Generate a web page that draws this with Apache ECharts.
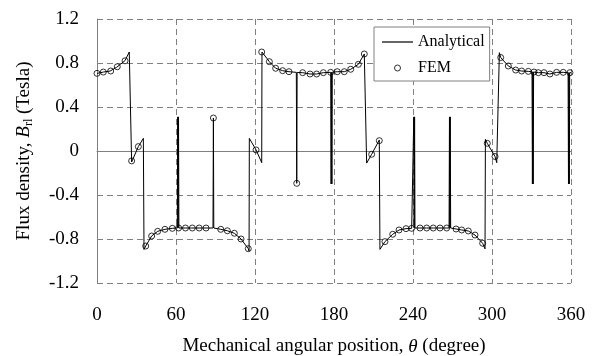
<!DOCTYPE html>
<html>
<head>
<meta charset="utf-8">
<script src="https://cdn.jsdelivr.net/npm/echarts@6/dist/echarts.min.js"></script>
<style>
  html, body { margin: 0; padding: 0; background: #fff; }
  #chart { width: 596px; height: 356px; }
</style>
</head>
<body>
<div id="chart"></div>
<script>
// --- Data ---
// Analytical curve (angle in degrees, flux density in Tesla); close pairs make the slot spikes
const anaX = [
  0, 5, 10, 15, 18, 21.3, 24.5, 26.3, 31.4, 35.2, 35.7, 37, 41.5, 46.1, 51.6, 57.2,
  61.0, 61.3, 61.6, 61.9, 62.2, 67, 72, 77.5, 82.8, 88.1, 88.4, 88.7,
  94, 99, 104.3, 109.4, 114.9, 115.5, 115.7, 120.8, 125.1, 125.3,
  130.9, 135.7, 141, 145.8, 151.4, 151.7, 152.0, 156.2, 161.8, 166.8, 171.9, 177.5,
  177.8, 178.1, 178.4, 178.7, 182.5, 187.8, 192.7, 198.5, 203, 204.3,
  204.8, 208.6, 214.4, 214.9, 218.7, 224.6, 229.4, 234.7, 239,
  240.3, 240.6, 240.9, 241.2, 241.5, 245.3, 250.4, 255.4, 260.5, 265.6,
  267.4, 267.7, 268.0, 268.3, 268.6, 272.7, 277, 282, 287.1, 292.9, 294.7,
  295.0, 296.4, 302.3, 303.6, 305.6, 306.6, 312.4, 318, 322.5, 327.6,
  330.4, 330.7, 331.0, 331.3, 331.6, 335.2, 339.5, 344, 349.1, 354.1,
  357.8, 358.1, 358.4, 358.7, 359.0, 360
];
const anaY = [
  0.705, 0.718, 0.727, 0.762, 0.79, 0.822, 0.90, -0.10, 0.04, 0.115, -0.895, -0.864, -0.773, -0.73, -0.712, -0.703,
  -0.70, 0.31, -0.70, 0.31, -0.70, -0.70, -0.70, -0.70, -0.70, -0.70, 0.30, -0.70,
  -0.712, -0.725, -0.748, -0.80, -0.888, -0.91, 0.115, 0.01, -0.106, 0.90,
  0.812, 0.752, 0.73, 0.721, 0.715, -0.294, 0.714, 0.712, 0.70, 0.70, 0.712, 0.715,
  -0.30, 0.715, -0.30, 0.716, 0.721, 0.721, 0.743, 0.788, 0.882, 0.894,
  -0.11, -0.03, 0.10, -0.894, -0.824, -0.757, -0.718, -0.706, -0.703,
  -0.70, 0.31, -0.70, 0.31, -0.70, -0.70, -0.70, -0.70, -0.70, -0.70,
  -0.70, 0.31, -0.70, 0.31, -0.70, -0.709, -0.718, -0.727, -0.764, -0.839, -0.89,
  0.106, 0.07, -0.05, -0.106, 0.894, 0.85, 0.773, 0.736, 0.727, 0.724,
  0.72, -0.30, 0.72, -0.30, 0.718, 0.712, 0.712, 0.70, 0.715, 0.715,
  0.712, -0.30, 0.712, -0.30, 0.712, 0.712
];

// FEM samples
const femX = [
  0, 4.8, 10.4, 15.4, 21.3, 26.3, 31.4, 37, 41.5, 46.1, 51.6, 57.2, 62, 67.2, 72.4, 77.6, 82.8,
  88.4, 94, 99, 104.3, 109.4, 114.9, 120.8, 125.1, 130.9, 135.7, 141, 145.8, 151.7,
  156.2, 161.8, 166.8, 171.9, 177.5, 182.5, 187.8, 192.7, 198.5, 203, 208.6, 214.4,
  218.7, 224.6, 229.4, 234.7, 239, 245.3, 250.4, 255.4, 260.5, 265.6, 272.7, 277, 282,
  287.1, 292.9, 296.4, 302.3, 306.6, 312.4, 318, 322.5, 327.6, 331.9, 335.2, 339.5,
  344, 349.1, 354.1, 359.2
];
const femY = [
  0.706, 0.718, 0.727, 0.766, 0.82, -0.09, 0.04, -0.864, -0.773, -0.73, -0.712, -0.703, -0.70, -0.70, -0.70, -0.70, -0.70,
  0.30, -0.712, -0.725, -0.748, -0.80, -0.888, 0.01, 0.90, 0.812, 0.752, 0.73, 0.721, -0.294,
  0.712, 0.70, 0.70, 0.712, 0.715, 0.721, 0.721, 0.743, 0.788, 0.882, -0.03, 0.094,
  -0.824, -0.757, -0.718, -0.706, -0.703, -0.70, -0.70, -0.70, -0.70, -0.70, -0.709, -0.718, -0.727,
  -0.764, -0.839, 0.07, -0.05, 0.85, 0.773, 0.736, 0.727, 0.724, 0.718, 0.712, 0.712,
  0.70, 0.715, 0.715, 0.712
];

const seriesNames = ['Analytical', 'FEM'];

// --- Chart ---
const FONT = '"Liberation Serif", "Times New Roman", serif';
const GRID_GRAY = '#808080';

const chart = echarts.init(document.getElementById('chart'), null, { renderer: 'canvas' });

chart.setOption({
  animation: false,
  backgroundColor: '#fff',
  // outerBoundsMode 'none': keep the plot box fixed even if the axis name reaches the edge
  grid: { left: 97, right: 25, top: 19, bottom: 73, containLabel: false, outerBoundsMode: 'none' },
  legend: {
    show: true,
    orient: 'vertical',
    left: 374,
    top: 27,
    padding: [7, 5, 5, 8],
    itemGap: 10,
    itemWidth: 31,
    itemHeight: 6,
    backgroundColor: '#fff',
    borderColor: GRID_GRAY,
    borderWidth: 1,
    textStyle: { fontFamily: FONT, fontSize: 16, color: '#000' },
    data: [
      // thin rectangle path = plain line icon
      { name: seriesNames[0], icon: 'path://M0,0L31,0L31,1.2L0,1.2Z', itemStyle: { color: '#000', borderWidth: 0 } },
      { name: seriesNames[1], icon: 'circle', itemStyle: { color: 'rgba(0,0,0,0)', borderColor: '#000', borderWidth: 1 } }
    ]
  },
  xAxis: {
    type: 'value',
    min: 0, max: 360, interval: 60,
    name: '{n|Mechanical angular position, }{i|θ}{n| (degree)}',
    nameLocation: 'middle',
    nameGap: 54,
    nameTextStyle: {
      rich: {
        n: { fontFamily: FONT, fontSize: 19, color: '#000' },
        i: { fontFamily: FONT, fontSize: 19, fontStyle: 'italic', color: '#000' }
      }
    },
    axisLine: { show: true, lineStyle: { color: GRID_GRAY, width: 1 } },
    axisTick: { show: false },
    axisLabel: { fontFamily: FONT, fontSize: 19, color: '#000', margin: 23 },
    splitLine: { show: true, lineStyle: { color: GRID_GRAY, type: [6, 4], width: 1 } }
  },
  yAxis: {
    type: 'value',
    min: -1.2, max: 1.2, interval: 0.4,
    name: '{n|Flux density, }{b|B}{s|rl}{n| (Tesla)}',
    nameLocation: 'middle',
    nameGap: 62,
    nameTextStyle: {
      rich: {
        n: { fontFamily: FONT, fontSize: 19, lineHeight: 22, color: '#000' },
        b: { fontFamily: FONT, fontSize: 19, lineHeight: 22, fontStyle: 'italic', color: '#000' },
        s: { fontFamily: FONT, fontSize: 12, lineHeight: 12, verticalAlign: 'bottom', color: '#000' }
      }
    },
    axisLine: { show: true, lineStyle: { color: GRID_GRAY, width: 1 } },
    axisTick: { show: false },
    axisLabel: {
      fontFamily: FONT, fontSize: 19, color: '#000', margin: 18,
      formatter: v => String(+v.toFixed(1))
    },
    splitLine: { show: true, lineStyle: { color: GRID_GRAY, type: [6, 4], width: 1 } }
  },
  series: [
    {
      name: seriesNames[0],
      type: 'line',
      data: anaX.map((x, i) => [x, anaY[i]]),
      symbol: 'none',
      lineStyle: { color: '#000', width: 1 },
      itemStyle: { color: '#000' },
      z: 2
    },
    {
      name: seriesNames[1],
      type: 'scatter',
      data: femX.map((x, i) => [x, femY[i]]),
      symbol: 'circle',
      symbolSize: 6,
      itemStyle: { color: 'rgba(0,0,0,0)', borderColor: '#000', borderWidth: 1 },
      z: 3
    }
  ]
});
</script>
</body>
</html>
